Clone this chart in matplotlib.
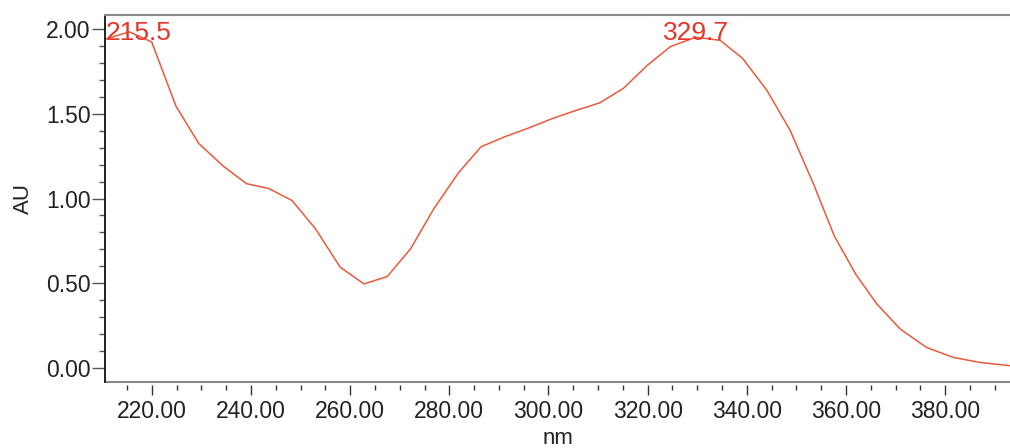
import matplotlib
matplotlib.use("Agg")
import matplotlib.pyplot as plt
from matplotlib.ticker import MultipleLocator, FormatStrFormatter
from matplotlib.transforms import blended_transform_factory

plt.rcParams['font.family'] = ['Liberation Sans', 'DejaVu Sans']

wavelength = [210.8, 215.5, 220.0, 224.9, 229.5, 234.4, 239.1, 243.6, 248.3, 253.1,
              258.0, 262.8, 267.5, 272.2, 276.9, 281.8, 286.4, 291.2, 296.1, 301.0,
              305.7, 310.4, 315.1, 320.0, 324.6, 329.7, 334.6, 339.1, 344.0, 348.7,
              353.4, 357.6, 362.0, 366.2, 370.9, 376.2, 381.6, 387.0, 393.0]
absorbance = [1.943, 1.985, 1.925, 1.545, 1.325, 1.192, 1.088, 1.059, 0.988, 0.818,
              0.594, 0.495, 0.539, 0.703, 0.940, 1.150, 1.306, 1.365, 1.418, 1.475,
              1.522, 1.566, 1.651, 1.789, 1.898, 1.953, 1.935, 1.829, 1.641, 1.404,
              1.088, 0.780, 0.550, 0.377, 0.229, 0.120, 0.061, 0.031, 0.012]
peak_labels = ["215.5", "329.7"]
peak_positions = [215.5, 329.7]

fig = plt.figure(figsize=(10.10, 4.48), dpi=100)
ax = fig.add_axes([0.1043, 0.148, 0.8957, 0.8185])

line_color = '#e85a3c'
text_color = '#e3352b'
ax.plot(wavelength, absorbance, color=line_color, lw=1.1)

ax.set_xlim(210.65, 393.05)
ax.set_ylim(-0.0827, 2.0845)

ax.xaxis.set_major_locator(MultipleLocator(20))
ax.xaxis.set_minor_locator(MultipleLocator(5))
ax.yaxis.set_major_locator(MultipleLocator(0.5))
ax.yaxis.set_minor_locator(MultipleLocator(0.1))
ax.xaxis.set_major_formatter(FormatStrFormatter('%.2f'))
ax.yaxis.set_major_formatter(FormatStrFormatter('%.2f'))

ax.spines['right'].set_visible(False)
ax.spines['top'].set_color('#8a8a8a')
ax.spines['top'].set_linewidth(1.5)
ax.spines['left'].set_color('#111111')
ax.spines['left'].set_linewidth(1.3)
ax.spines['bottom'].set_visible(False)
ax.spines['bottom'].set_position(('outward', 2.5))
ax.plot([0, 1], [0, 0], transform=ax.transAxes, color='#8a8a8a', lw=1.5, clip_on=False)

ax.tick_params(axis='x', which='major', direction='out', length=7.5, width=1.0,
               color='#333333', labelsize=16.5, labelcolor='#222222', pad=3)
ax.tick_params(axis='x', which='minor', direction='out', length=3.8, width=1.0, color='#333333')
ax.tick_params(axis='y', which='major', direction='out', length=9.5, width=1.0,
               color='#555555', labelsize=16.5, labelcolor='#222222', pad=1)
ax.tick_params(axis='y', which='minor', direction='out', length=4.5, width=1.0, color='#555555')

ax.set_ylabel('AU', fontsize=16, color='#222222', labelpad=9)
ax.set_xlabel('nm', fontsize=16, color='#222222', labelpad=4)

# peak labels
trans = blended_transform_factory(ax.transAxes, ax.transData)
ax.text(0.0, 1.935, peak_labels[0], transform=trans, ha='left', va='baseline',
        fontsize=19, color=text_color)
ax.text(peak_positions[1], 1.935, peak_labels[1], ha='center', va='baseline',
        fontsize=19, color=text_color)

fig.savefig('out.png', dpi=100)
